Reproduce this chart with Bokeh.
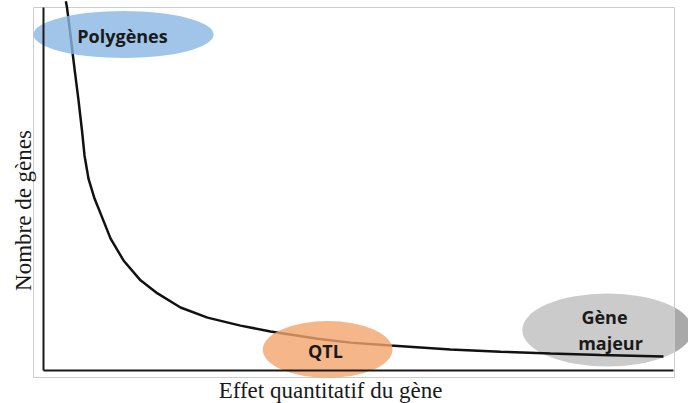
import math
from bokeh.plotting import figure
from bokeh.models import Range1d, ColumnDataSource
from bokeh.core.properties import value
from bokeh.embed import file_html
from bokeh.resources import INLINE

# --- data -------------------------------------------------------------
# curve : quantitative effect of a gene (x) vs number of genes (y)
curve_x = [3.55, 3.73, 4.29, 4.92, 5.56, 6.11, 6.51, 7.14, 8.10, 9.05, 10.63, 12.70,
           15.40, 18.10, 21.75, 26.03, 31.27, 36.03, 43.49, 48.73, 55.08, 64.60,
           72.54, 80.48, 88.41, 98.41]
curve_y = [102.0, 100.3, 92.5, 83.4, 74.6, 66.3, 59.4, 53.0, 47.5, 43.4, 36.5, 30.4,
           24.9, 21.3, 17.4, 14.6, 12.4, 10.8, 8.8, 7.7, 6.9, 5.8,
           5.2, 4.7, 4.3, 3.9]

# gene classes (ellipses)
group_names = ["Polygènes", "QTL", "Gène majeur"]
group_x = [12.7, 45.1, 89.5]
group_y = [92.8, 5.8, 11.2]
group_w = [28.6, 20.6, 27.0]
group_h = [13.0, 15.7, 20.2]
group_colors = ["#88B6E2", "#F2A46D", "#A9A9A9"]

# labels of the classes (one entry per text line)
label_text = ["Polygènes", "QTL", "Gène", "majeur"]
label_x = [12.54, 44.76, 89.05, 90.0]
label_y = [92.35, 5.3, 14.9, 7.7]

x_title = "Effet quantitatif du gène"
y_title = "Nombre de gènes"

# --- figure -------------------------------------------------------------
x_start, x_end = -6.825, 102.38
y_start, y_end = -9.116, 102.21
box_l, box_r, box_b, box_t = -1.587, 100.16, -1.93, 100.28

p = figure(width=688, height=403,
           x_range=Range1d(x_start, x_end), y_range=Range1d(y_start, y_end),
           x_axis_location=None, y_axis_location=None,
           toolbar_location=None, output_backend="svg",
           min_border_left=0, min_border_right=0,
           min_border_top=0, min_border_bottom=0)
p.grid.visible = False
p.outline_line_color = None
p.background_fill_color = "white"
p.border_fill_color = "white"

# major-gene ellipse (seen darker outside the plot area)
p.ellipse(x=group_x[2:], y=group_y[2:], width=group_w[2:], height=group_h[2:],
          fill_color=group_colors[2], line_color=None)

# plot area: translucent white with a light frame
p.quad(left=[box_l], right=[box_r], bottom=[box_b], top=[box_t],
       fill_color="white", fill_alpha=0.4, line_color="#cccccc", line_width=1)

# curve
p.line(curve_x, curve_y, line_color="#111111", line_width=2.5)

# polygenes / QTL ellipses
src = ColumnDataSource(dict(x=group_x[:2], y=group_y[:2], w=group_w[:2], h=group_h[:2],
                            c=group_colors[:2], name=group_names[:2]))
p.ellipse(x="x", y="y", width="w", height="h", source=src,
          fill_color="c", fill_alpha=0.8, line_color=None)

# axis lines
p.segment(x0=[0, 0], y0=[0, 0], x1=[0, 100], y1=[box_t, 0],
          line_color="#1a1a1a", line_width=2)

# class labels
p.text(x=label_x, y=label_y, text=label_text,
       text_font=value("Open Sans"), text_font_style="bold",
       text_font_size="18px", text_color="#1a1a1a",
       text_align="center", text_baseline="alphabetic")

# axis titles
p.text(x=[-3.17], y=[44.2], text=[y_title], angle=math.pi / 2,
       text_align="center", text_baseline="middle",
       text_font=value("Liberation Serif"), text_font_size="23px",
       text_color="#1a1a1a")
p.text(x=[45.56], y=[-5.5], text=[x_title],
       text_align="center", text_baseline="alphabetic",
       text_font=value("Liberation Serif"), text_font_size="23px",
       text_color="#1a1a1a")

open("out.html", "w").write(file_html(p, INLINE))
